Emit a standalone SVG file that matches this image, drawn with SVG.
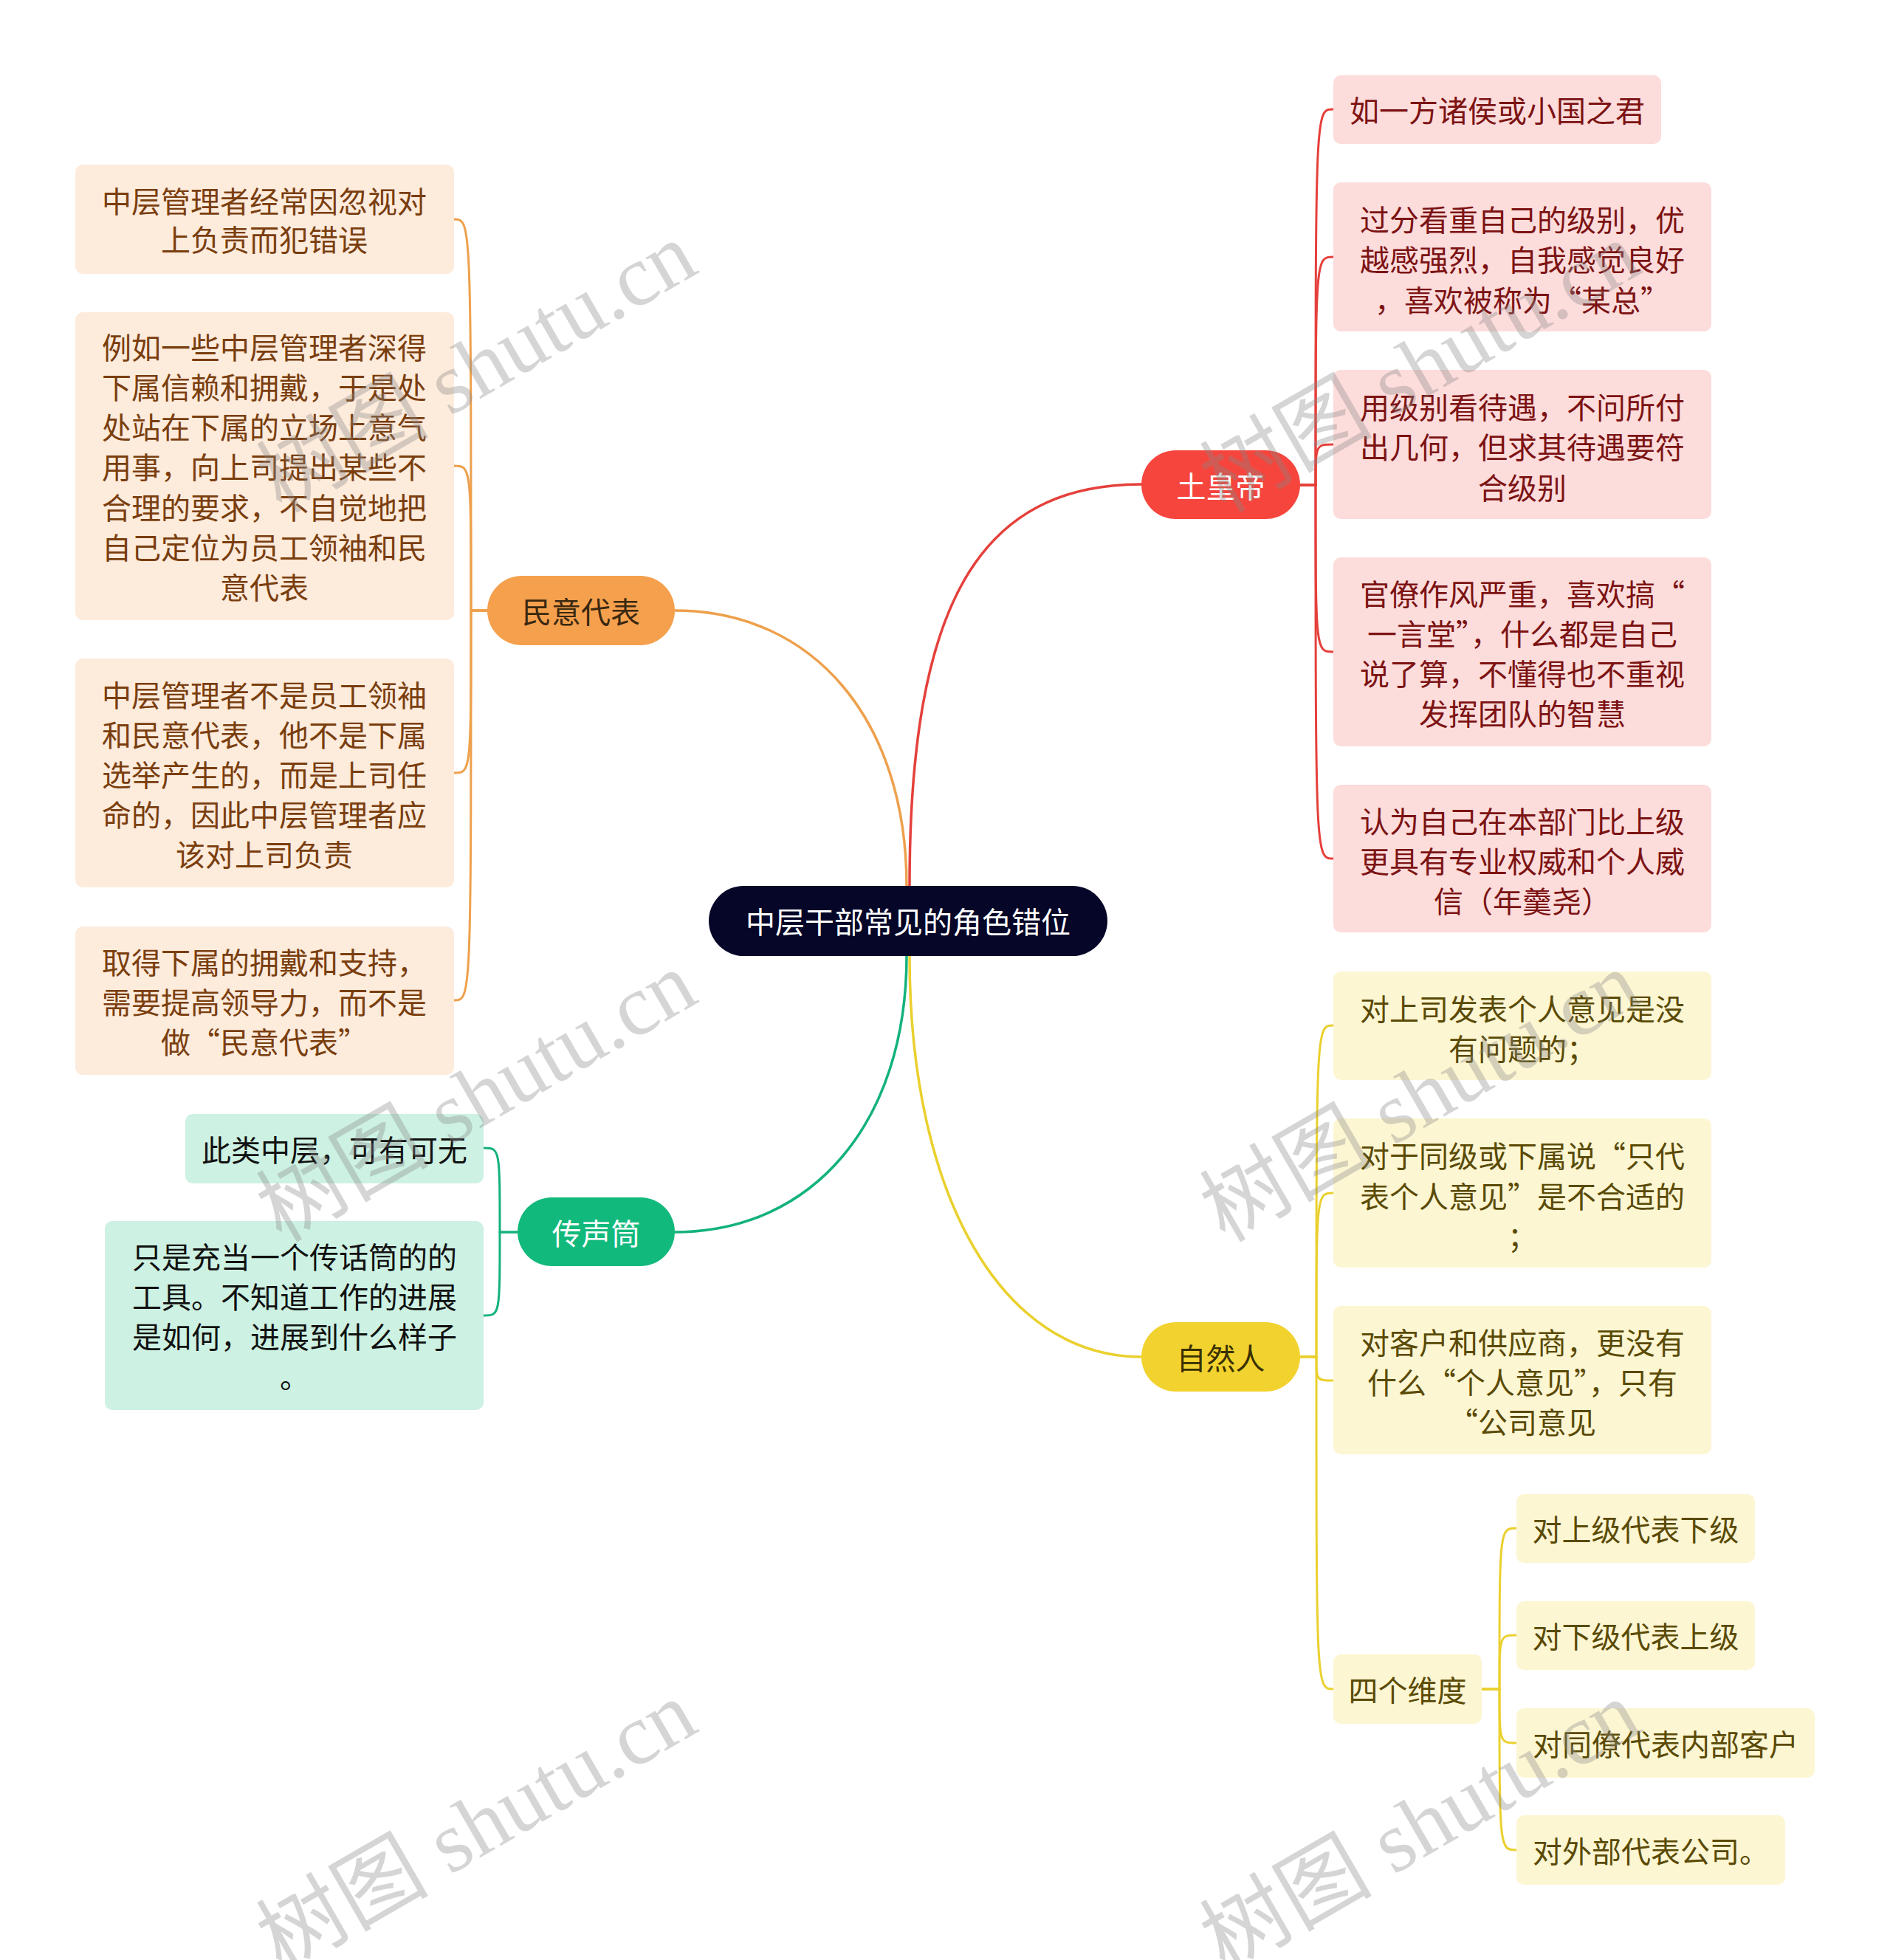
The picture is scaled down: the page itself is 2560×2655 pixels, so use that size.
<svg xmlns="http://www.w3.org/2000/svg" width="2560" height="2655" viewBox="0 0 2560 2655">
<style>
text{font-family:"Noto Sans CJK SC","Noto Sans",sans-serif;font-size:40px;text-anchor:middle;dominant-baseline:central}
.c{fill:none;stroke-width:3;stroke-linecap:round}
.m{fill:none;stroke-width:3.5;stroke-linecap:round}
.o{stroke:#eea04c}.r{stroke:#e5403b}.g{stroke:#13b27c}.y{stroke:#ead02e}
.lo{fill:#fdebdc}.lr{fill:#fddcdc}.lg{fill:#cdf1e2}.ly{fill:#fdf6d3}
.to{fill:#7a3e0e}.tr{fill:#7c1313}.tg{fill:#111111}.ty{fill:#5a4a05}
.wm{font-family:"Liberation Serif","Noto Sans CJK SC",serif;font-size:117px;text-anchor:start;dominant-baseline:alphabetic;fill:#888888;fill-opacity:0.35}
</style>
<rect width="2560" height="2655" fill="#ffffff"/>
<g id="connectors">
<path class="m o" d="M1228,1200 C1228,976 1102,827 914,827"/>
<path class="m r" d="M1232,1200 C1232,819 1326,656 1546,656"/>
<path class="m g" d="M1228,1295 C1228,1519 1102,1669 914,1669"/>
<path class="m y" d="M1232,1295 C1232,1621 1358,1838 1546,1838"/>
<path class="c o" d="M660,827 H638 C638,297 638,297 615,297"/>
<path class="c o" d="M660,827 H638 C638,631 638,631 615,631"/>
<path class="c o" d="M660,827 H638 C638,1047 638,1047 615,1047"/>
<path class="c o" d="M660,827 H638 C638,1355 638,1355 615,1355"/>
<path class="c r" d="M1761,657 H1782 C1782,148 1782,148 1806,148"/>
<path class="c r" d="M1761,657 H1782 C1782,348 1782,348 1806,348"/>
<path class="c r" d="M1761,657 H1782 C1782,602 1782,602 1806,602"/>
<path class="c r" d="M1761,657 H1782 C1782,883 1782,883 1806,883"/>
<path class="c r" d="M1761,657 H1782 C1782,1163 1782,1163 1806,1163"/>
<path class="c y" d="M1761,1838 H1783 C1783,1389 1783,1389 1806,1389"/>
<path class="c y" d="M1761,1838 H1783 C1783,1616 1783,1616 1806,1616"/>
<path class="c y" d="M1761,1838 H1783 C1783,1870 1783,1870 1806,1870"/>
<path class="c y" d="M1761,1838 H1783 C1783,2288 1783,2288 1806,2288"/>
<path class="c y" d="M2007,2288 H2031 C2031,2070 2031,2070 2054,2070"/>
<path class="c y" d="M2007,2288 H2031 C2031,2215 2031,2215 2054,2215"/>
<path class="c y" d="M2007,2288 H2031 C2031,2361 2031,2361 2054,2361"/>
<path class="c y" d="M2007,2288 H2031 C2031,2506 2031,2506 2054,2506"/>
<path class="c g" d="M701,1669 H677 C677,1555 677,1555 655,1555"/>
<path class="c g" d="M701,1669 H677 C677,1782 677,1782 655,1782"/>
</g>
<g id="root">
<rect x="960" y="1200" width="540" height="95" rx="47.5" fill="#050628"/>
<text x="1230" y="1247" fill="#ffffff">中层干部常见的角色错位</text>
</g>
<g id="b-minyi">
<rect x="660" y="780" width="254" height="94" rx="47" fill="#f5a04d"/>
<text x="787" y="827" fill="#3a2810">民意代表</text>
</g>
<g id="b-tuhuangdi">
<rect x="1546" y="610" width="215" height="93" rx="46.5" fill="#f5453d"/>
<text x="1653.5" y="656.5" fill="#ffffff">土皇帝</text>
</g>
<g id="b-chuanshengtong">
<rect x="701" y="1622" width="213" height="93" rx="46.5" fill="#12b97c"/>
<text x="807.5" y="1668.5" fill="#ffffff">传声筒</text>
</g>
<g id="b-ziranren">
<rect x="1546" y="1791" width="215" height="94" rx="47" fill="#f2d22e"/>
<text x="1653.5" y="1838" fill="#3a3000">自然人</text>
</g>
<g id="o1"><rect class="lo" x="102" y="223" width="513" height="148" rx="10"/>
<text class="to" x="358" y="271">中层管理者经常因忽视对</text><text class="to" x="358" y="323">上负责而犯错误</text></g>
<g id="o2"><rect class="lo" x="102" y="423" width="513" height="417" rx="10"/>
<text class="to" x="358" y="469">例如一些中层管理者深得</text><text class="to" x="358" y="523">下属信赖和拥戴，于是处</text><text class="to" x="358" y="577">处站在下属的立场上意气</text><text class="to" x="358" y="631">用事，向上司提出某些不</text><text class="to" x="358" y="686">合理的要求，不自觉地把</text><text class="to" x="358" y="740">自己定位为员工领袖和民</text><text class="to" x="358" y="794">意代表</text></g>
<g id="o3"><rect class="lo" x="102" y="892" width="513" height="310" rx="10"/>
<text class="to" x="358" y="940">中层管理者不是员工领袖</text><text class="to" x="358" y="994">和民意代表，他不是下属</text><text class="to" x="358" y="1048">选举产生的，而是上司任</text><text class="to" x="358" y="1102">命的，因此中层管理者应</text><text class="to" x="358" y="1156">该对上司负责</text></g>
<g id="o4"><rect class="lo" x="102" y="1255" width="513" height="201" rx="10"/>
<text class="to" x="358" y="1302">取得下属的拥戴和支持，</text><text class="to" x="358" y="1356">需要提高领导力，而不是</text><text class="to" x="358" y="1410">做“民意代表”</text></g>
<g id="r1"><rect class="lr" x="1806" y="102" width="444" height="93" rx="10"/>
<text class="tr" x="2028" y="148">如一方诸侯或小国之君</text></g>
<g id="r2"><rect class="lr" x="1806" y="247" width="512" height="202" rx="10"/>
<text class="tr" x="2062" y="296">过分看重自己的级别，优</text><text class="tr" x="2062" y="350">越感强烈，自我感觉良好</text><text class="tr" x="2062" y="405">，喜欢被称为“某总”</text></g>
<g id="r3"><rect class="lr" x="1806" y="501" width="512" height="202" rx="10"/>
<text class="tr" x="2062" y="550">用级别看待遇，不问所付</text><text class="tr" x="2062" y="604">出几何，但求其待遇要符</text><text class="tr" x="2062" y="659">合级别</text></g>
<g id="r4"><rect class="lr" x="1806" y="755" width="512" height="256" rx="10"/>
<text class="tr" x="2062" y="803">官僚作风严重，喜欢搞“</text><text class="tr" x="2062" y="857">一言堂”，什么都是自己</text><text class="tr" x="2062" y="911">说了算，不懂得也不重视</text><text class="tr" x="2062" y="965">发挥团队的智慧</text></g>
<g id="r5"><rect class="lr" x="1806" y="1063" width="512" height="200" rx="10"/>
<text class="tr" x="2062" y="1111">认为自己在本部门比上级</text><text class="tr" x="2062" y="1165">更具有专业权威和个人威</text><text class="tr" x="2062" y="1219">信（年羹尧）</text></g>
<g id="y1"><rect class="ly" x="1806" y="1316" width="512" height="147" rx="10"/>
<text class="ty" x="2062" y="1365">对上司发表个人意见是没</text><text class="ty" x="2062" y="1419">有问题的；</text></g>
<g id="y2"><rect class="ly" x="1806" y="1515" width="512" height="202" rx="10"/>
<text class="ty" x="2062" y="1564">对于同级或下属说“只代</text><text class="ty" x="2062" y="1619">表个人意见”是不合适的</text><text class="ty" x="2062" y="1673">；</text></g>
<g id="y3"><rect class="ly" x="1806" y="1769" width="512" height="201" rx="10"/>
<text class="ty" x="2062" y="1817">对客户和供应商，更没有</text><text class="ty" x="2062" y="1871">什么“个人意见”，只有</text><text class="ty" x="2062" y="1925">“公司意见</text></g>
<g id="y4"><rect class="ly" x="1806" y="2241" width="201" height="94" rx="10"/>
<text class="ty" x="1906.5" y="2288">四个维度</text></g>
<g id="y4a"><rect class="ly" x="2054" y="2024" width="323" height="93" rx="10"/>
<text class="ty" x="2215.5" y="2070">对上级代表下级</text></g>
<g id="y4b"><rect class="ly" x="2054" y="2169" width="323" height="93" rx="10"/>
<text class="ty" x="2215.5" y="2215">对下级代表上级</text></g>
<g id="y4c"><rect class="ly" x="2054" y="2314" width="404" height="94" rx="10"/>
<text class="ty" x="2256" y="2361">对同僚代表内部客户</text></g>
<g id="y4d"><rect class="ly" x="2054" y="2459" width="364" height="94" rx="10"/>
<text class="ty" x="2236" y="2506">对外部代表公司。</text></g>
<g id="g1"><rect class="lg" x="251" y="1509" width="404" height="94" rx="10"/>
<text class="tg" x="453" y="1556">此类中层，可有可无</text></g>
<g id="g2"><rect class="lg" x="142" y="1654" width="513" height="256" rx="10"/>
<text class="tg" x="399" y="1701">只是充当一个传话筒的的</text><text class="tg" x="399" y="1755">工具。不知道工作的进展</text><text class="tg" x="399" y="1809">是如何，进展到什么样子</text><text class="tg" x="399" y="1863">。</text></g>
<g id="watermarks">
<text class="wm" transform="translate(381,696) rotate(-30)">树图 shutu.cn</text>
<text class="wm" transform="translate(381,1684) rotate(-30)">树图 shutu.cn</text>
<text class="wm" transform="translate(381,2672) rotate(-30)">树图 shutu.cn</text>
<text class="wm" transform="translate(1659,696) rotate(-30)">树图 shutu.cn</text>
<text class="wm" transform="translate(1659,1684) rotate(-30)">树图 shutu.cn</text>
<text class="wm" transform="translate(1659,2672) rotate(-30)">树图 shutu.cn</text>
</g>
</svg>
